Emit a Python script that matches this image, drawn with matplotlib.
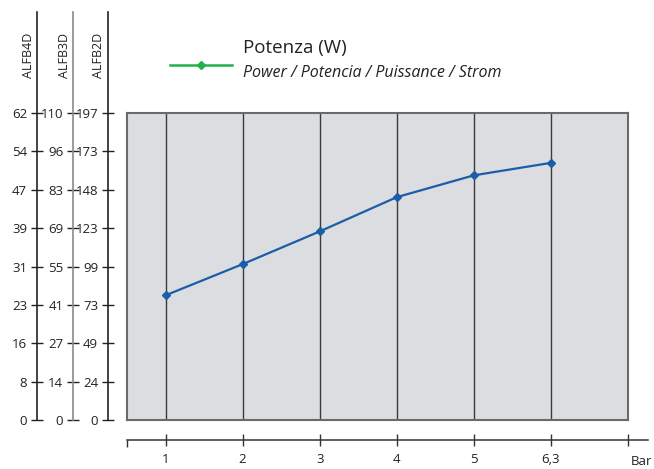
import numpy as np
import matplotlib.pyplot as plt
from matplotlib.lines import Line2D

plt.rcParams['font.family'] = ['Open Sans', 'DejaVu Sans']

# data
pressure = ['1', '2', '3', '4', '5', '6,3']
power_b2d = [80, 100, 121, 143, 157, 165]   # W, read on the ALFB2D scale

models = ['ALFB4D', 'ALFB3D', 'ALFB2D']
model_ticks = {
    'ALFB4D': ['0', '8', '16', '23', '31', '39', '47', '54', '62'],
    'ALFB3D': ['0', '14', '27', '41', '55', '69', '83', '96', '110'],
    'ALFB2D': ['0', '24', '49', '73', '99', '123', '148', '173', '197'],
}
model_max = {'ALFB4D': 62, 'ALFB3D': 110, 'ALFB2D': 197}

W, H = 654, 469
fig = plt.figure(figsize=(W / 100, H / 100), dpi=100)


def box(x0, y0, x1, y1):
    # pixel box (top-left origin) -> figure fraction
    return [x0 / W, 1 - y1 / H, (x1 - x0) / W, (y1 - y0) / H]


xpos = np.arange(1, len(pressure) + 1)

# main plot area
ax = fig.add_axes(box(127, 113, 628, 420))
ax.set_facecolor('#dcdde0')
ax.set_xlim(0.5, 7)
ax.set_ylim(0, 197)
for x in xpos:
    ax.axvline(x, color='#3a3a3a', lw=1.0, zorder=1)
ax.plot(xpos, power_b2d, color='#1a5ea8', lw=1.6, marker='D', ms=4.5, zorder=3)
for s in ax.spines.values():
    s.set_color('#6a6a6a')
    s.set_linewidth(1.5)
ax.set_xticks([])
ax.set_yticks([])

# three left scales
spine_x = [37, 73, 108]
spine_col = ['#222222', '#8a8a8a', '#222222']
frac = (420 - 12) / (420 - 113)
for m, sx, col in zip(models, spine_x, spine_col):
    a = fig.add_axes(box(sx, 12, sx + 1, 420))
    a.patch.set_visible(False)
    for k in ['top', 'right', 'bottom']:
        a.spines[k].set_visible(False)
    a.spines['left'].set_color(col)
    a.spines['left'].set_linewidth(1.2)
    top = model_max[m]
    a.set_ylim(0, top * frac)
    a.set_yticks(np.linspace(0, top, 9))
    a.set_yticklabels(model_ticks[m])
    a.tick_params(axis='y', direction='inout', length=8, width=1, color='#222222',
                  labelsize=9.5, pad=3, labelcolor='#222222')
    a.set_xticks([])
    fig.text((sx - 9) / W, 1 - 55 / H, m, rotation=90, ha='center', va='center',
             fontsize=9, color='#222222')

# bottom pressure axis
bx = fig.add_axes(box(127, 439, 648, 440))
bx.patch.set_visible(False)
for k in ['top', 'right', 'left']:
    bx.spines[k].set_visible(False)
bx.spines['bottom'].set_color('#333333')
bx.spines['bottom'].set_linewidth(1.1)
bx.set_xlim(0.5, 0.5 + (648 - 127) / (501 / 6.5))
bx.set_yticks([])
bx.set_xticks(list(xpos) + [7])
bx.set_xticklabels(pressure + [''])
bx.set_xticks([0.5], minor=True)
bx.tick_params(axis='x', which='major', direction='inout', length=8, width=1,
               color='#333333', labelsize=9.5, pad=5, labelcolor='#222222')
bx.tick_params(axis='x', which='minor', direction='out', length=5, width=1,
               color='#333333')
fig.text(652 / W, 1 - 461 / H, 'Bar', ha='right', va='center', fontsize=9.5,
         color='#222222')

# legend
fig.add_artist(Line2D([170 / W, 232 / W], [1 - 65 / H, 1 - 65 / H], color='#22b04b',
                      lw=1.8, transform=fig.transFigure))
fig.add_artist(Line2D([201 / W], [1 - 65 / H], color='#22b04b', marker='D', ms=4,
                      lw=0, transform=fig.transFigure))
fig.text(243 / W, 1 - 48 / H, 'Potenza (W)', ha='left', va='center', fontsize=13.5,
         color='#222222')
fig.text(243 / W, 1 - 73 / H, 'Power / Potencia / Puissance / Strom', ha='left',
         va='center', fontsize=11.5, style='italic', color='#222222')

fig.savefig('out.png', dpi=100)
